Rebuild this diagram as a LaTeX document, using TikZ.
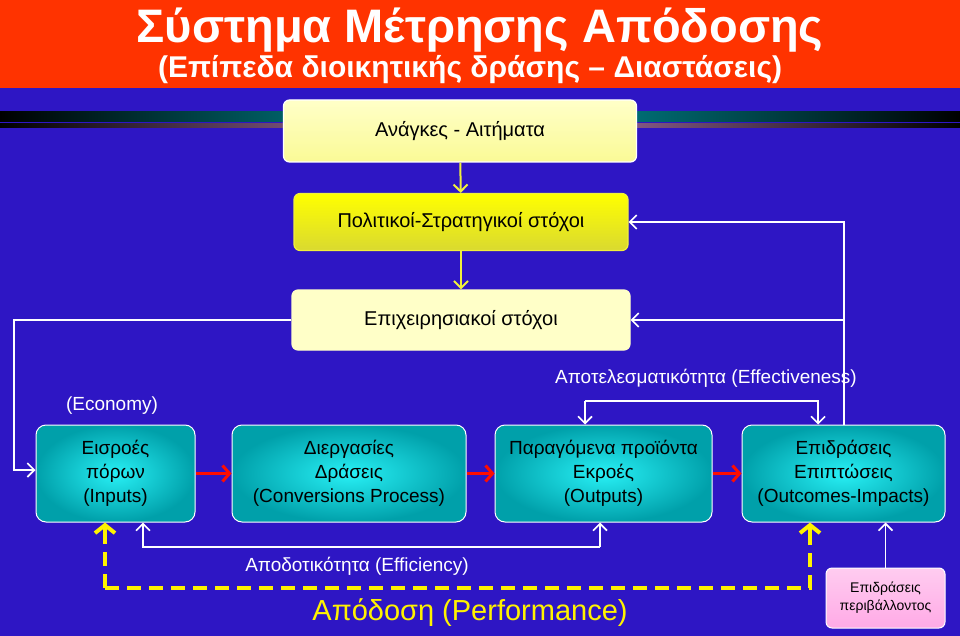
\documentclass[tikz,border=0pt]{standalone}
\usepackage{fontspec}
\setmainfont{Liberation Sans}
\usetikzlibrary{calc}
\usetikzlibrary{arrows.meta}

\definecolor{bgblue}{RGB}{46,22,196}
\definecolor{headred}{RGB}{255,51,0}
\definecolor{teal1}{RGB}{0,160,170}
\definecolor{cyan1}{RGB}{40,240,245}
\definecolor{yel1}{RGB}{250,250,150}
\definecolor{yel2}{RGB}{240,240,60}
\definecolor{yel3}{RGB}{255,255,200}
\definecolor{pink1}{RGB}{255,170,230}

\tikzset{
  goalbox/.style={draw=white, line width=1.2pt, rounded corners=6pt, text=black, font=\fontsize{20}{22}\selectfont},
  stagebox/.style={draw=white, line width=1pt, rounded corners=10pt, inner color=cyan1, outer color=teal1,
    text=black, align=center, font=\fontsize{19}{24}\selectfont},
  feed/.style={white, line width=1.6pt, -{Straight Barb[length=7pt,width=14pt]}},
  down/.style={yel2, line width=2pt, -{Straight Barb[length=7pt,width=14pt]}},
  flow/.style={red!90!orange, line width=3pt, -{Straight Barb[length=7pt,width=16pt,line width=3pt]}},
  perf/.style={yellow, line width=4pt, dash pattern=on 14pt off 8pt},
  lbl/.style={text=white, font=\fontsize{19}{22}\selectfont}
}

\begin{document}
\begin{tikzpicture}[x=1pt,y=-1pt]

\fill[bgblue] (0,0) rectangle (960,636);
\useasboundingbox (0,0) rectangle (960,636);
\fill[headred] (0,0) rectangle (960,88);
\node[text=white, font=\bfseries\fontsize{47}{48}\selectfont] (title) at (480,30) {Σύστημα Μέτρησης Απόδοσης};
\node[text=white, font=\bfseries\fontsize{30}{32}\selectfont] (subtitle) at (470,70) {(Επίπεδα διοικητικής δράσης -- Διαστάσεις)};

% stripes behind the top box
\shade[left color=black, right color=black, middle color=teal1] (0,112) rectangle (960,122);
\shade[left color=black, right color=black, middle color=violet!50!white] (0,124) rectangle (960,128);

% goal boxes
\node[goalbox, top color=yel3, bottom color=yel1, minimum width=353pt, minimum height=62pt] (needs) at (460,131) {Ανάγκες - Αιτήματα};
\node[goalbox, top color=yellow, bottom color=yel2!80!olive, draw=yel2, minimum width=334pt, minimum height=57pt] (policy) at (461,222) {Πολιτικοί-Στρατηγικοί στόχοι};
\node[goalbox, fill=yel3, draw=yel3, minimum width=338pt, minimum height=60pt] (oper) at (461,320) {Επιχειρησιακοί στόχοι};

\draw[down] (needs) -- (policy);
\draw[down] (policy) -- (oper);

% stage boxes
\node[stagebox, minimum width=159pt, minimum height=97pt] (inputs) at (115.5,473.5) {Εισροές\\πόρων\\(Inputs)};
\node[stagebox, minimum width=234pt, minimum height=97pt] (process) at (349,473.5) {Διεργασίες\\Δράσεις\\(Conversions Process)};
\node[stagebox, minimum width=217pt, minimum height=97pt] (outputs) at (603.5,473.5) {Παραγόμενα προϊόντα\\Εκροές\\(Outputs)};
\node[stagebox, minimum width=203pt, minimum height=97pt] (outcomes) at (843.5,473.5) {Επιδράσεις\\Επιπτώσεις\\(Outcomes-Impacts)};
\node[draw=white, line width=1pt, rounded corners=6pt, top color=pink1!60!white, bottom color=pink1,
  align=center, font=\fontsize{14}{18}\selectfont, minimum width=119pt, minimum height=60pt] (env) at (885.5,598) {Επιδράσεις\\περιβάλλοντος};

\draw[flow] (inputs) -- (process);
\draw[flow] (process) -- (outputs);
\draw[flow] (outputs) -- (outcomes);

% feedback lines
\coordinate (ltop) at (14,320);
\coordinate (lbot) at (14,470);
\draw[feed] (oper.west) -- (ltop) -- (lbot) -- (inputs.west |- lbot);
\coordinate (rtop) at (844,222);
\coordinate (rmid) at (844,320);
\draw[feed] (outcomes.north -| rtop) -- (rtop) -- (policy.east);
\draw[feed] (rmid) -- (oper.east);

% effectiveness
\node[lbl] (effect) at (706,378) {Αποτελεσματικότητα (Effectiveness)};
\coordinate (ea) at (585,401);
\coordinate (eb) at (818,401);
\draw[feed] (ea) -- (ea |- outputs.north);
\draw[feed] (ea) -- (eb) -- (eb |- outcomes.north);

% economy
\node[lbl] (economy) at (112,406) {(Economy)};

% efficiency
\coordinate (fa) at (143,547);
\coordinate (fb) at (600,547);
\draw[feed] (fb) -- (fb |- outputs.south);
\draw[feed] (fb) -- (fa) -- (fa |- inputs.south);
\node[lbl] (efficiency) at (357,566) {Αποδοτικότητα (Efficiency)};

% performance
\coordinate (pa) at (105,588);
\coordinate (pb) at (810,588);
\draw[perf] (pa) -- (pb) -- ($(pb |- outcomes.south)+(0,14)$);
\draw[perf] (pa) -- ($(pa |- inputs.south)+(0,14)$);
\draw[yellow, line width=4pt, -{Straight Barb[length=8pt,width=20pt,line width=4pt]}] ($(pa |- inputs.south)+(0,16)$) -- (pa |- inputs.south);
\draw[yellow, line width=4pt, -{Straight Barb[length=8pt,width=20pt,line width=4pt]}] ($(pb |- outcomes.south)+(0,16)$) -- (pb |- outcomes.south);
\node[text=yellow, font=\fontsize{29}{32}\selectfont] (perform) at (470,613) {Απόδοση (Performance)};

\draw[feed] (env.north) -- (env.north |- outcomes.south);

\end{tikzpicture}
\end{document}
